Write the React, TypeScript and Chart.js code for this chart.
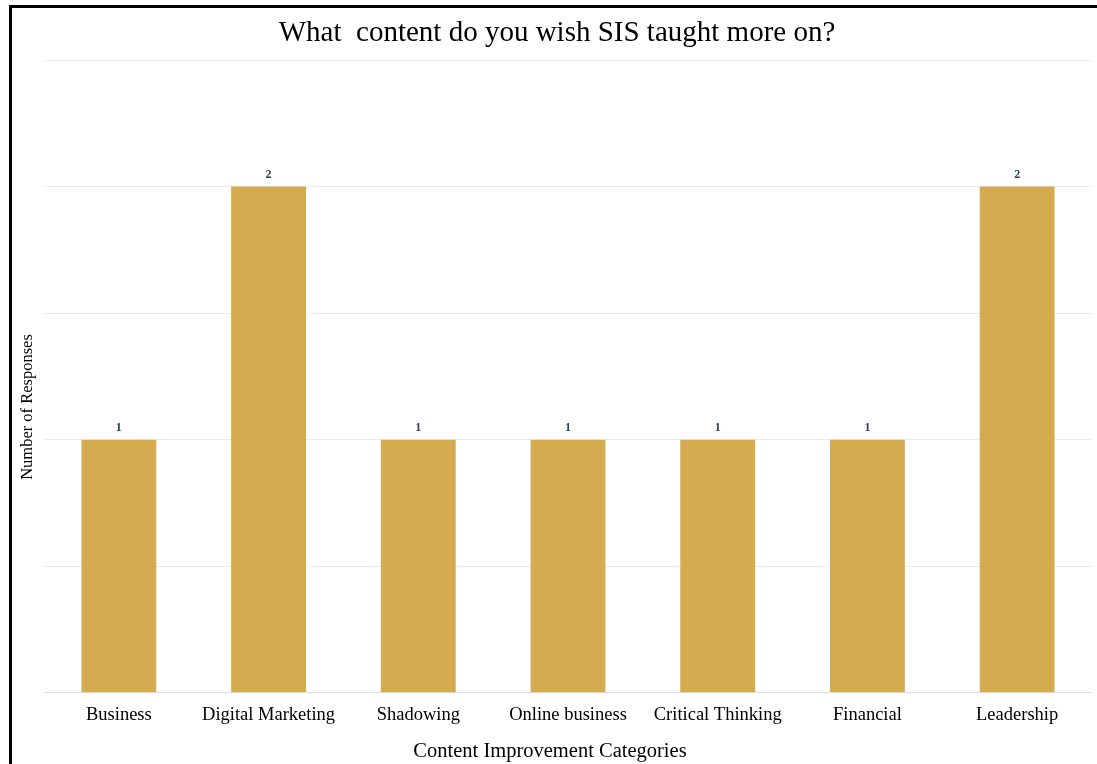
import React, { useEffect, useRef } from "react";
import { Chart, registerables } from "chart.js";

Chart.register(...registerables);

const categories = [
  "Business",
  "Digital Marketing",
  "Shadowing",
  "Online business",
  "Critical Thinking",
  "Financial",
  "Leadership",
];
const responses = [1, 2, 1, 1, 1, 1, 2];

const chartTitle = "What  content do you wish SIS taught more on?";
const xTitle = "Content Improvement Categories";
const yTitle = "Number of Responses";

const SERIF = "'Liberation Serif', 'Times New Roman', serif";

const valueLabels = {
  id: "valueLabels",
  afterDatasetsDraw(chart: any) {
    const ctx = chart.ctx;
    const meta = chart.getDatasetMeta(0);
    ctx.save();
    ctx.font = `bold 12px ${SERIF}`;
    ctx.fillStyle = "#2a3f5f";
    ctx.textAlign = "center";
    ctx.textBaseline = "middle";
    meta.data.forEach((bar: any, i: number) => {
      ctx.fillText(String(responses[i]), bar.x, bar.y - 12);
    });
    ctx.restore();
  },
};

// chart and axis titles, placed as in the reference (offset from the plot centre)
const titles = {
  id: "titles",
  afterDraw(chart: any) {
    const ctx = chart.ctx;
    ctx.save();
    ctx.fillStyle = "#000";
    ctx.textAlign = "center";
    ctx.textBaseline = "middle";
    ctx.font = `29px ${SERIF}`;
    ctx.fillText(chartTitle, 557, 33);
    ctx.font = `20.5px ${SERIF}`;
    ctx.fillText(xTitle, 550, 752);
    ctx.translate(28, 407);
    ctx.rotate(-Math.PI / 2);
    ctx.font = `16.5px ${SERIF}`;
    ctx.fillText(yTitle, 0, 0);
    ctx.restore();
  },
};

export default function App() {
  const ref = useRef<HTMLCanvasElement | null>(null);

  useEffect(() => {
    if (!ref.current) return;
    const chart = new Chart(ref.current, {
      type: "bar",
      data: {
        labels: categories,
        datasets: [
          {
            data: responses,
            backgroundColor: "#D4AC4F",
            barPercentage: 0.5,
            categoryPercentage: 1,
          },
        ],
      },
      plugins: [valueLabels, titles],
      options: {
        responsive: false,
        animation: false,
        maintainAspectRatio: false,
        layout: { padding: { left: 44, right: 5, top: 60, bottom: 27 } },
        plugins: {
          legend: { display: false },
          tooltip: { enabled: false },
          title: { display: false },
        },
        scales: {
          x: {
            grid: { display: false, drawTicks: false },
            border: { display: false },
            ticks: {
              color: "#000",
              font: { family: SERIF, size: 18.5 },
              padding: 11,
              maxRotation: 0,
            },
          },
          y: {
            min: 0,
            max: 2.5,
            grid: {
              drawTicks: false,
              color: (c: any) => (c.tick && c.tick.value === 0 ? "#dbe1ea" : "#ececec"),
              lineWidth: 1,
            },
            border: { display: false },
            ticks: { display: false, stepSize: 0.5 },
          },
        },
      },
    });
    return () => chart.destroy();
  }, []);

  return (
    <div
      style={{
        position: "absolute",
        left: 0,
        top: 0,
        width: 1097,
        height: 764,
        background: "#fff",
        overflow: "hidden",
      }}
    >
      <canvas ref={ref} width={1097} height={764} style={{ display: "block" }} />
      <div style={{ position: "absolute", left: 9, top: 5, width: 3, height: 759, background: "#000" }} />
      <div style={{ position: "absolute", left: 9, top: 5, width: 1088, height: 3, background: "#000" }} />
    </div>
  );
}
